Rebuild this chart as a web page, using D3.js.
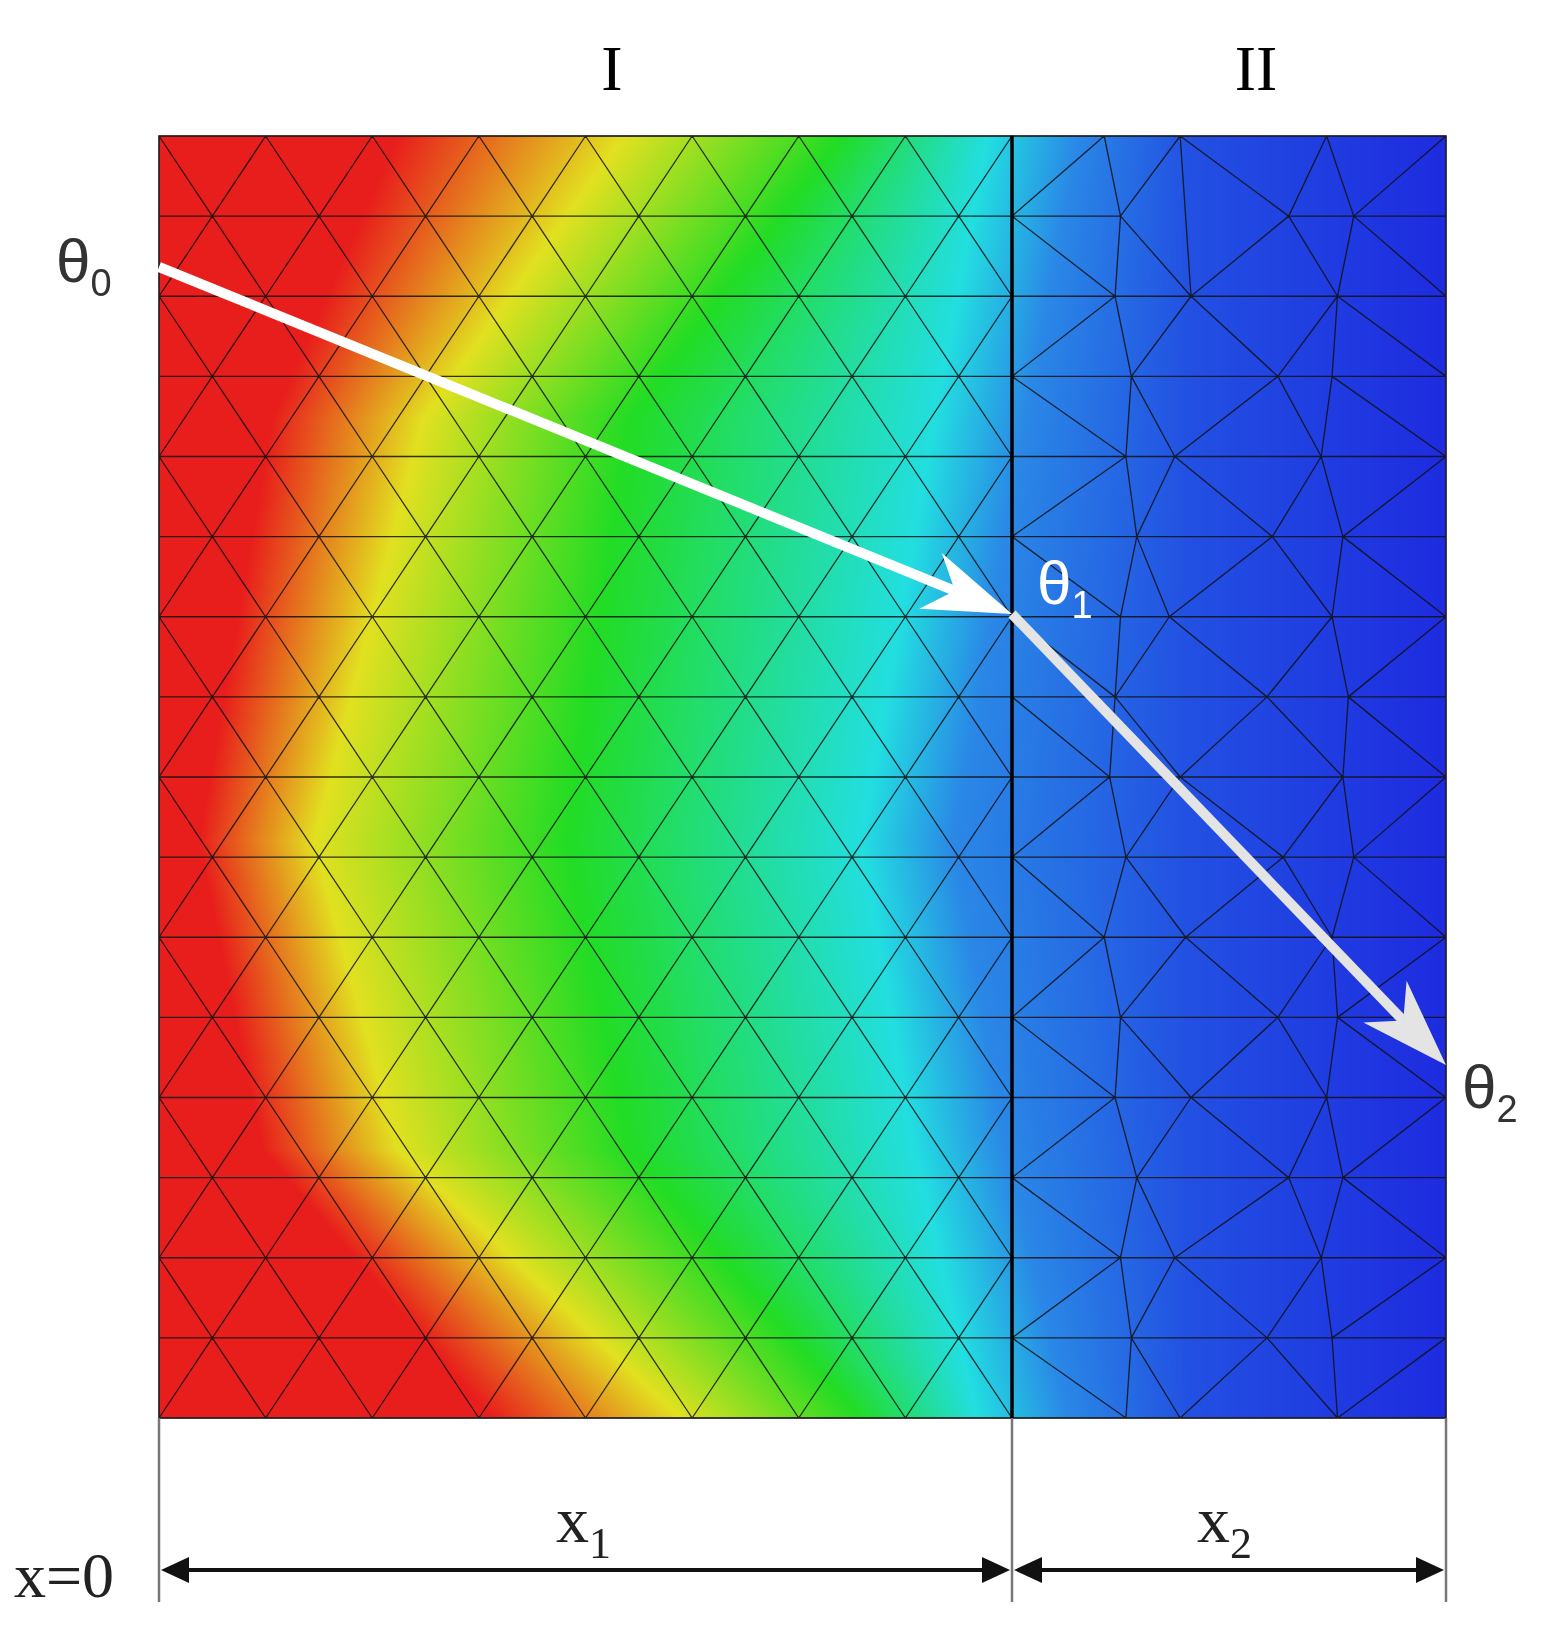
<!DOCTYPE html>
<html><head><meta charset="utf-8">
<script src="https://cdn.jsdelivr.net/npm/d3@7"></script>
<style>body{margin:0;background:#fff}#wrap{position:relative;width:1542px;height:1638px}canvas,svg{position:absolute;left:0;top:0}</style>
</head><body><div id="wrap"><canvas id="cv" width="1542" height="1638"></canvas><svg id="sv" width="1542" height="1638"></svg></div>
<script>
const regions = ["I", "II"];
const rowsCount = 16;
const colsI = 8;
// region II node x-offsets (irregular mesh), per row, per interior column
const jitterII = [
 [0.1,-0.2,0.15],[-0.25,0.3,-0.1],[0.2,-0.1,0.25],[-0.15,0.2,-0.3],[0.3,-0.25,0.1],
 [-0.1,0.15,-0.2],[0.25,-0.3,0.2],[-0.3,0.1,-0.15],[0.15,-0.2,0.3],[-0.2,0.25,-0.1],
 [0.1,-0.15,0.2],[-0.25,0.2,-0.25],[0.2,-0.1,0.15],[-0.1,0.3,-0.2],[0.25,-0.25,0.1],
 [-0.15,0.1,-0.3],[0.3,-0.2,0.25]];
const bandY      = [0.0, 0.22, 0.55, 0.79, 1.0];
const redEnd     = [0.185, 0.088, 0.031, 0.080, 0.259];
const yellowPos  = [0.360, 0.205, 0.120, 0.185, 0.405];
const greenPos   = [0.530, 0.365, 0.316, 0.365, 0.545];
const cyanPos    = [0.644, 0.603, 0.546, 0.587, 0.636];
const bandColors = ["#e81e1c","#e2e020","#22dc24","#22dee0","#2a88e6","#2250e2","#1e2be0"];

const L=159, R=1446, T=136, B=1418, XI=1012;
const W=R-L, H=B-T;
const sx = d3.scaleLinear().domain([0,1]).range([L,R]);
const sy = d3.scaleLinear().domain([0,1]).range([T,B]);
const sxI = d3.scaleLinear().domain([0,1]).range([L,XI]);

const cv=document.getElementById('cv'), ctx=cv.getContext('2d');
const img=ctx.createImageData(W,H);
const interp = (arr,f)=>d3.scaleLinear().domain(bandY).range(arr)(f);
for(let py=0;py<H;py++){
  const f=py/H;
  const c=interp(cyanPos,f);
  const sc=d3.scaleLinear().domain([interp(redEnd,f),interp(yellowPos,f),interp(greenPos,f),c,c+0.07,0.80,1.0])
     .range(bandColors).interpolate(d3.interpolateRgb).clamp(true);
  for(let px=0;px<W;px++){
    const col=d3.rgb(sc(px/W));
    const i=(py*W+px)*4;
    img.data[i]=col.r;img.data[i+1]=col.g;img.data[i+2]=col.b;img.data[i+3]=255;
  }
}
ctx.putImageData(img,L,T);

const svg=d3.select('#sv');
const mesh=svg.append('g');
function drawMesh(pts){
  const del=d3.Delaunay.from(pts);
  mesh.append('path').attr('d',del.render()).attr('fill','none').attr('stroke','#111').attr('stroke-width',1.3).attr('stroke-opacity',0.85);
}
const ptsI=[];
for(let j=0;j<=rowsCount;j++){
  const fy=j/rowsCount;
  if(j%2===0){for(let k=0;k<=colsI;k++) ptsI.push([sxI(k/colsI),sy(fy)]);}
  else{ptsI.push([sxI(0),sy(fy)]);for(let k=0;k<colsI;k++) ptsI.push([sxI((k+0.5)/colsI),sy(fy)]);ptsI.push([sxI(1),sy(fy)]);}
}
drawMesh(ptsI);
const sxII=d3.scaleLinear().domain([0,4]).range([XI,R]);
const ptsII=[];
for(let j=0;j<=rowsCount;j++){
  const fy=j/rowsCount;
  ptsII.push([XI,sy(fy)]);ptsII.push([R,sy(fy)]);
  const off=(j%2)*0.5;
  jitterII[j].forEach((d,k)=>{const u=k+0.75+off+d;ptsII.push([sxII(u),sy(fy)]);});
}
drawMesh(ptsII);
svg.append('rect').attr('x',L).attr('y',T).attr('width',W).attr('height',H).attr('fill','none').attr('stroke','#222').attr('stroke-width',1.2);
svg.append('line').attr('x1',XI).attr('x2',XI).attr('y1',T).attr('y2',B).attr('stroke','#000').attr('stroke-width',3.5);

function arrow(x1,y1,x2,y2,color,w,hl,hw){
  const a=Math.atan2(y2-y1,x2-x1), bx=x2-hl*Math.cos(a), by=y2-hl*Math.sin(a);
  svg.append('line').attr('x1',x1).attr('y1',y1).attr('x2',bx+hl*0.3*Math.cos(a)).attr('y2',by+hl*0.3*Math.sin(a)).attr('stroke',color).attr('stroke-width',w);
  const px=-Math.sin(a)*hw, py=Math.cos(a)*hw;
  svg.append('path').attr('d',`M${x2},${y2}L${bx+px},${by+py}L${bx+hl*0.3*Math.cos(a)},${by+hl*0.3*Math.sin(a)}L${bx-px},${by-py}Z`).attr('fill',color);
}
arrow(sx(0),267,XI,614,'#ffffff',10,88,30);
arrow(XI,614,R,1065,'#e4e4e4',10,88,30);

const serif='"Liberation Serif","DejaVu Serif",serif', sans='"Liberation Sans",Arial,sans-serif';
svg.append('text').attr('x',612).attr('y',90).attr('text-anchor','middle').attr('font-family',serif).attr('font-size',64).text(regions[0]);
svg.append('text').attr('x',1256).attr('y',90).attr('text-anchor','middle').attr('font-family',serif).attr('font-size',64).text(regions[1]);
function theta(x,y,sub,color){
  const t=svg.append('text').attr('x',x).attr('y',y).attr('font-family',sans).attr('font-size',62).attr('fill',color);
  t.append('tspan').text('θ');t.append('tspan').attr('font-size',38).attr('dy',14).text(sub);
}
theta(56,282,'0','#333');
theta(1037,604,'1','#fff');
theta(1462,1108,'2','#333');

const dimY=1570;
[L,XI,R].forEach(x=>svg.append('line').attr('x1',x).attr('x2',x).attr('y1',B).attr('y2',1602).attr('stroke','#777').attr('stroke-width',2.5));
function dim(a,b){
  svg.append('line').attr('x1',a+20).attr('x2',b-20).attr('y1',dimY).attr('y2',dimY).attr('stroke','#111').attr('stroke-width',4);
  svg.append('path').attr('d',`M${a+2},${dimY}L${a+30},${dimY-13}L${a+30},${dimY+13}Z`).attr('fill','#111');
  svg.append('path').attr('d',`M${b-2},${dimY}L${b-30},${dimY-13}L${b-30},${dimY+13}Z`).attr('fill','#111');
}
dim(L,XI);dim(XI,R);
function xl(x,sub){
  const t=svg.append('text').attr('x',x).attr('y',1542).attr('font-family',serif).attr('font-size',66).attr('fill','#222');
  t.append('tspan').text('x');t.append('tspan').attr('font-size',44).attr('dy',16).text(sub);
}
xl(556,'1');xl(1197,'2');
svg.append('text').attr('x',14).attr('y',1597).attr('font-family',serif).attr('font-size',64).attr('fill','#222').text('x=0');
</script></body></html>
